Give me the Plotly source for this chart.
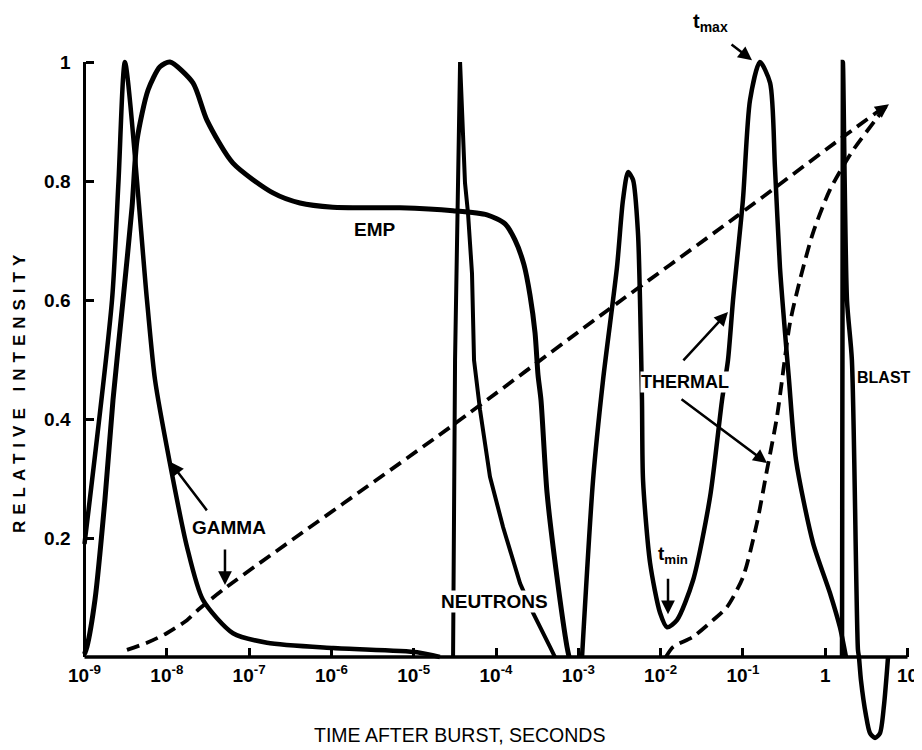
import plotly.graph_objects as go

# ---------------- data (time in seconds, relative intensity) ----------------
gamma_t = [1.00e-9, 2.16e-9, 2.59e-9, 3.10e-9, 5.74e-9, 7.19e-9, 1.09e-8, 1.76e-8,
           2.75e-8, 6.37e-8, 1.65e-7, 1.05e-6, 1.10e-5, 2.08e-5]
gamma_v = [0.19, 0.60, 0.80, 1.00, 0.60, 0.466, 0.326, 0.185,
           0.096, 0.040, 0.024, 0.015, 0.008, 0.0]

emp_t = [1.00e-9, 1.07e-9, 1.34e-9, 1.77e-9, 2.22e-9, 2.94e-9, 3.78e-9, 4.35e-9,
         5.92e-9, 8.26e-9, 1.09e-8, 2.08e-8, 3.08e-8, 6.37e-8, 1.95e-7, 4.15e-7,
         1.04e-6, 6.81e-6, 3.00e-5, 7.78e-5, 1.29e-4, 1.70e-4, 2.19e-4, 2.59e-4,
         2.98e-4, 3.24e-4, 3.52e-4, 4.17e-4, 5.51e-4, 7.29e-4, 7.73e-4]
emp_v = [0.005, 0.017, 0.096, 0.264, 0.432, 0.600, 0.756, 0.869,
         0.953, 0.992, 1.0, 0.965, 0.902, 0.830, 0.780, 0.763,
         0.756, 0.755, 0.750, 0.743, 0.728, 0.701, 0.659, 0.608,
         0.545, 0.474, 0.432, 0.276, 0.134, 0.017, 0.0]

neutron_t = [3.01e-5, 3.09e-5, 3.18e-5, 3.66e-5, 4.20e-5, 4.57e-5, 5.11e-5, 5.41e-5,
             6.40e-5, 8.45e-5, 1.22e-4, 1.96e-4, 2.82e-4, 4.53e-4, 5.21e-4]
neutron_v = [0.0, 0.264, 0.499, 1.0, 0.797, 0.746, 0.645, 0.499,
             0.415, 0.303, 0.218, 0.124, 0.074, 0.017, 0.0]

thermal_t = [1.11e-3, 1.51e-3, 2.00e-3, 2.95e-3, 3.49e-3, 4.02e-3, 4.62e-3, 5.31e-3,
             5.62e-3, 5.94e-3, 6.12e-3, 7.45e-3, 9.86e-3, 1.20e-2, 1.58e-2, 2.48e-2,
             3.99e-2, 5.58e-2, 6.59e-2, 7.59e-2, 1.00e-1, 1.22e-1, 1.61e-1,
             2.14e-1, 2.45e-1, 2.82e-1, 3.25e-1, 3.63e-1, 4.42e-1, 7.11e-1,
             1.14, 1.51, 1.79]
thermal_v = [0.0, 0.297, 0.466, 0.655, 0.768, 0.815, 0.802, 0.713,
             0.600, 0.432, 0.297, 0.158, 0.074, 0.050, 0.062, 0.129,
             0.269, 0.432, 0.499, 0.600, 0.768, 0.936, 1.0,
             0.965, 0.824, 0.655, 0.545, 0.466, 0.331, 0.192,
             0.108, 0.050, 0.0]

blast_t = [1.60, 1.64, 1.84, 2.11, 2.50, 2.57, 2.72, 3.12, 3.50, 4.03, 4.63, 5.18, 5.64, 5.80]
blast_v = [0.0, 1.0, 0.600, 0.499, 0.012, 0.0, -0.039, -0.097, -0.128, -0.136,
           -0.128, -0.081, -0.022, 0.0]

gamma_cum_t = [3.28e-9, 5.74e-9, 1.00e-8, 1.76e-8, 2.53e-8, 5.38e-8, 2.75e-5,
               2.23e-3, 8.47e-2, 1.64, 5.64]
gamma_cum_v = [0.012, 0.024, 0.040, 0.062, 0.082, 0.118, 0.386,
               0.582, 0.741, 0.874, 0.928]

thermal_cum_t = [1.16e-2, 1.42e-2, 2.48e-2, 4.34e-2, 6.40e-2, 1.00e-1, 1.48e-1,
                 1.96e-1, 2.59e-1, 3.73e-1, 4.94e-1, 7.11e-1, 1.14, 2.11, 4.26, 5.64]
thermal_cum_v = [0.0, 0.017, 0.034, 0.062, 0.084, 0.134, 0.225,
                 0.314, 0.403, 0.561, 0.634, 0.713, 0.785, 0.849, 0.906, 0.928]

x_tick_vals = [1e-9, 1e-8, 1e-7, 1e-6, 1e-5, 1e-4, 1e-3, 1e-2, 1e-1, 1, 10]
x_tick_text = ["10<sup>-9</sup>", "10<sup>-8</sup>", "10<sup>-7</sup>", "10<sup>-6</sup>",
               "10<sup>-5</sup>", "10<sup>-4</sup>", "10<sup>-3</sup>", "10<sup>-2</sup>",
               "10<sup>-1</sup>", "1", "10"]
y_tick_vals = [0.2, 0.4, 0.6, 0.8, 1.0]
y_tick_text = ["0.2", "0.4", "0.6", "0.8", "1"]

axis_t = [1e-9, 10]

# ---------------- figure ----------------
FONT = "Liberation Sans, Arial, sans-serif"
fig = go.Figure()


def curve(t, v, width, dash=None, shape="linear"):
    fig.add_trace(go.Scatter(
        x=t, y=v, mode="lines", hoverinfo="skip",
        line=dict(color="black", width=width, dash=dash, shape=shape, smoothing=0.7)))


curve(gamma_cum_t, gamma_cum_v, 3.8, dash="13px,7px", shape="spline")
curve(thermal_cum_t, thermal_cum_v, 3.8, dash="13px,7px", shape="spline")
curve(gamma_t, gamma_v, 4.5, shape="spline")
curve(emp_t, emp_v, 5, shape="spline")
curve(neutron_t, neutron_v, 4, shape="linear")
curve(thermal_t, thermal_v, 4.5, shape="spline")
curve(blast_t, blast_v, 4.5, shape="spline")
# axis lines
curve(axis_t, [0, 0], 3.5)
curve([axis_t[0], axis_t[0]], [0, 1], 3)

fig.update_xaxes(
    type="log", range=[-9.9295, 1.2734], anchor="free", position=0.1347,
    showgrid=False, zeroline=False, showline=False,
    ticks="inside", ticklen=9, tickwidth=2.5, tickcolor="black",
    tickvals=x_tick_vals, ticktext=x_tick_text, ticklabelstandoff=5,
    tickfont=dict(family=FONT, size=19, color="black", weight="bold"))
fig.update_yaxes(
    range=[-0.1697, 1.0908], anchor="free", position=0.0830,
    showgrid=False, zeroline=False, showline=False,
    ticks="inside", ticklen=8, tickwidth=2.5, tickcolor="black",
    tickvals=y_tick_vals, ticktext=y_tick_text, ticklabelstandoff=14,
    tickfont=dict(family=FONT, size=19, color="black", weight="bold"))

labels = [
    ("EMP", -5.470, 0.719, 19, None),
    ("GAMMA", -7.244, 0.217, 19, None),
    ("NEUTRONS", -4.024, 0.094, 19, "white"),
    ("THERMAL", -1.704, 0.462, 18, "white"),
    ("BLAST", 0.715, 0.469, 16, None),
    ("t<sub>max</sub>", -1.388, 1.067, 20, None),
    ("t<sub>min</sub>", -1.849, 0.171, 19, None),
]
annotations = []
for text, x, y, size, bg in labels:
    annotations.append(dict(
        text=text, x=x, y=y, xref="x", yref="y", showarrow=False,
        font=dict(family=FONT, size=size, color="black", weight="bold"),
        bgcolor=bg if bg else "rgba(0,0,0,0)", borderpad=0))

arrows = [
    (-0.889, 1.003, -22, -17),   # t max
    (-1.910, 0.072, 0, -37),     # t min
    (-7.961, 0.328, 38, 50),     # gamma -> curve
    (-7.293, 0.121, 0, -37),     # gamma -> cumulative
    (-1.181, 0.580, -46, 50),    # thermal -> curve
    (-0.707, 0.326, -87, -65),   # thermal -> cumulative
    (0.775, 0.929, -14, 10),     # end of cumulative dashed line
]
for x, y, ax, ay in arrows:
    annotations.append(dict(
        text="", x=x, y=y, xref="x", yref="y", ax=ax, ay=ay,
        showarrow=True, arrowhead=2, arrowsize=1.1, arrowwidth=2.5,
        arrowcolor="black", standoff=0))

annotations.append(dict(
    text='<span style="letter-spacing:6px">RELATIVE INTENSITY</span>',
    x=0.0119, y=0.447, xref="paper", yref="y", xanchor="center", yanchor="middle",
    textangle=-90, showarrow=False,
    font=dict(family=FONT, size=17, color="black", weight="bold")))
annotations.append(dict(
    text="TIME AFTER BURST, SECONDS", x=0.4892, y=0.0307, xref="paper", yref="paper",
    xanchor="center", yanchor="middle", showarrow=False,
    font=dict(family=FONT, size=19.5, color="black")))

fig.update_layout(
    width=922, height=750, margin=dict(l=0, r=0, t=0, b=0),
    paper_bgcolor="white", plot_bgcolor="white", showlegend=False,
    annotations=annotations)

fig.write_html("out.html")
